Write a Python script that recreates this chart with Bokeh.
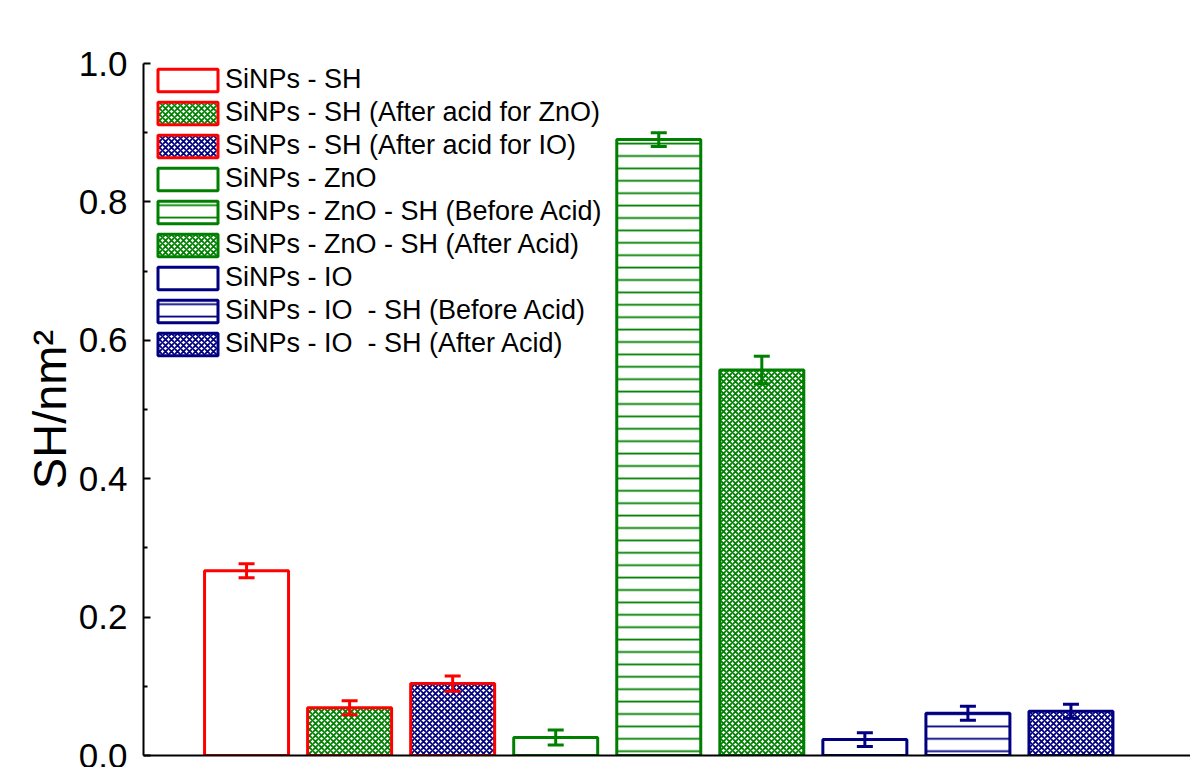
from bokeh.plotting import figure
from bokeh.models import (ColumnDataSource, FixedTicker, PrintfTickFormatter,
                          Whisker, TeeHead, Range1d)
from bokeh.embed import file_html
from bokeh.resources import INLINE

# ---------------- data ----------------
labels = [
    "SiNPs - SH",
    "SiNPs - SH (After acid for ZnO)",
    "SiNPs - SH (After acid for IO)",
    "SiNPs - ZnO",
    "SiNPs - ZnO - SH (Before Acid)",
    "SiNPs - ZnO - SH (After Acid)",
    "SiNPs - IO",
    "SiNPs - IO  - SH (Before Acid)",
    "SiNPs - IO  - SH (After Acid)",
]
positions = [1, 2, 3, 4, 5, 6, 7, 8, 9]
values = [0.267, 0.069, 0.104, 0.026, 0.890, 0.557, 0.023, 0.061, 0.064]
errors = [0.010, 0.010, 0.011, 0.011, 0.010, 0.020, 0.010, 0.010, 0.010]
outline_colors = ["#FF0000", "#FF0000", "#FF0000",
                  "#008000", "#008000", "#008000",
                  "#000080", "#000080", "#000080"]
hatch_colors = ["#FF0000", "#008000", "#000080",
                "#008000", "#008000", "#008000",
                "#000080", "#000080", "#000080"]
patterns = [" ", "x", "x", " ", "-", "x", " ", "-", "x"]
y_ticks = [0.0, 0.2, 0.4, 0.6, 0.8, 1.0]
y_minor_ticks = [0.1, 0.3, 0.5, 0.7, 0.9]
y_title = "SH/nm²"

FONT = "Liberation Sans"

scale_for = {" ": 6, "x": 6, "-": 12.4}
weight_for = {" ": 1, "x": 1.8, "-": 1.8}

src = ColumnDataSource(dict(
    x=positions, top=values, label=labels,
    line_color=outline_colors, hatch_color=hatch_colors,
    hatch_pattern=patterns,
    hatch_scale=[scale_for[p] for p in patterns],
    hatch_weight=[weight_for[p] for p in patterns],
))

p = figure(width=1190, height=767,
           x_range=Range1d(0, 10.16), y_range=Range1d(0, 1.0),
           output_backend="svg", toolbar_location=None,
           min_border_left=143, min_border_right=0,
           min_border_top=63, min_border_bottom=12,
           background_fill_color="white", border_fill_color="white")

p.vbar(x="x", top="top", bottom=0, width=0.815, source=src,
       fill_color="white", line_color="line_color", line_width=3,
       hatch_pattern="hatch_pattern", hatch_color="hatch_color",
       hatch_scale="hatch_scale", hatch_weight="hatch_weight",
       legend_field="label")

# error bars, grouped by colour
for col in ["#FF0000", "#008000", "#000080"]:
    idx = [i for i, c in enumerate(outline_colors) if c == col]
    es = ColumnDataSource(dict(
        x=[positions[i] for i in idx],
        upper=[values[i] + errors[i] for i in idx],
        lower=[values[i] - errors[i] for i in idx],
    ))
    w = Whisker(source=es, base="x", upper="upper", lower="lower",
                line_color=col, line_width=3, level="overlay",
                upper_head=TeeHead(size=16, line_color=col, line_width=3),
                lower_head=TeeHead(size=16, line_color=col, line_width=3))
    p.add_layout(w)

# axes
p.xgrid.visible = False
p.ygrid.visible = False
p.outline_line_color = None

ya = p.yaxis[0]
ya.ticker = FixedTicker(ticks=y_ticks, minor_ticks=y_minor_ticks)
ya.formatter = PrintfTickFormatter(format="%.1f")
ya.major_tick_in = 7
ya.major_tick_out = 0
ya.minor_tick_in = 4
ya.minor_tick_out = 0
ya.axis_line_width = 2
ya.major_tick_line_width = 2
ya.minor_tick_line_width = 2
ya.axis_line_color = "black"
ya.major_tick_line_color = "black"
ya.minor_tick_line_color = "black"
ya.major_label_standoff = 16
ya.major_label_text_font = FONT
ya.major_label_text_font_size = "35px"
ya.major_label_text_color = "black"
ya.axis_label = y_title
ya.axis_label_text_font = FONT
ya.axis_label_text_font_size = "47px"
ya.axis_label_text_font_style = "normal"
ya.axis_label_text_color = "black"
ya.axis_label_standoff = 0

xa = p.xaxis[0]
xa.ticker = FixedTicker(ticks=[])
xa.major_label_text_font_size = "0px"
xa.major_tick_out = 0
xa.major_tick_in = 0
xa.minor_tick_out = 0
xa.minor_tick_in = 0
xa.major_label_standoff = 0
xa.axis_line_width = 2
xa.axis_line_color = "black"

# legend
lg = p.legend[0]
lg.location = (7, 396)
lg.margin = 0
lg.padding = 0
lg.spacing = 2
lg.glyph_width = 75
lg.glyph_height = 28
lg.label_height = 27
lg.label_standoff = 0
lg.label_text_font = FONT
lg.label_text_font_size = "27px"
lg.label_text_color = "black"
lg.border_line_color = None
lg.background_fill_alpha = 0

open("out.html", "w").write(file_html(p, INLINE))
